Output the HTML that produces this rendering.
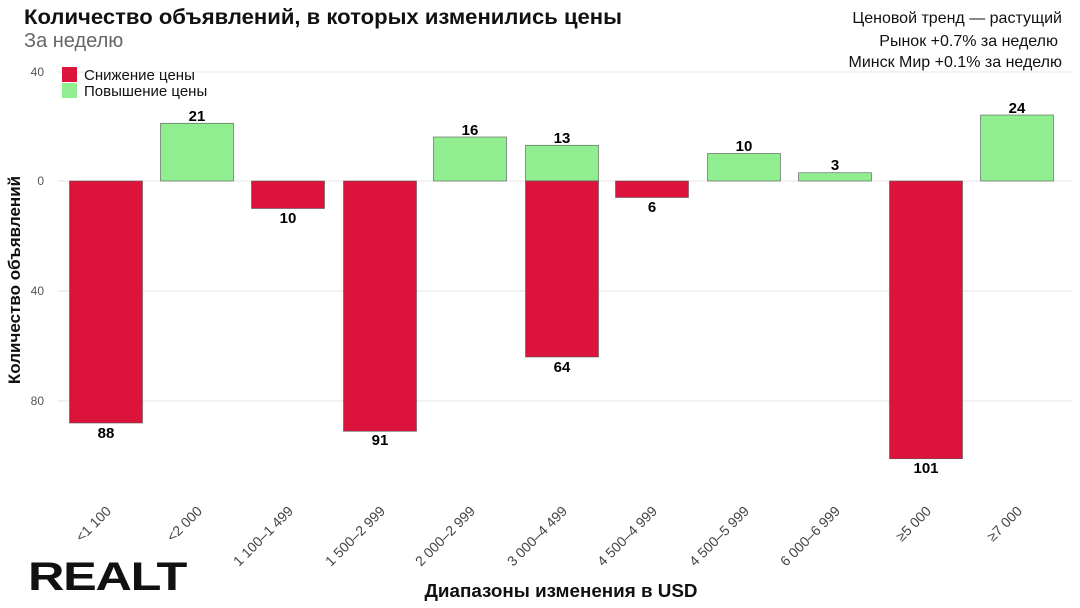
<!DOCTYPE html>
<html><head><meta charset="utf-8"><style>
body{margin:0;background:#fff;}
svg{display:block;font-family:"Liberation Sans",sans-serif;}
</style></head><body>
<svg width="1080" height="608" viewBox="0 0 1080 608">
<rect width="1080" height="608" fill="#fff"/>
<text x="24" y="24" font-size="21" font-weight="bold" fill="#111" textLength="598" lengthAdjust="spacingAndGlyphs">Количество объявлений, в которых изменились цены</text>
<text x="24" y="47" font-size="20" fill="#666">За неделю</text>
<text x="1062" y="23" font-size="16" text-anchor="end" fill="#111">Ценовой тренд — растущий</text>
<text x="1058" y="46" font-size="16" text-anchor="end" fill="#111">Рынок +0.7% за неделю</text>
<text x="1062" y="67" font-size="16" text-anchor="end" fill="#111">Минск Мир +0.1% за неделю</text>
<g stroke="#e4e4e4" stroke-width="1">
<line x1="58" x2="1072" y1="72" y2="72"/>
<line x1="58" x2="1072" y1="181" y2="181"/>
<line x1="58" x2="1072" y1="291" y2="291"/>
<line x1="58" x2="1072" y1="401" y2="401"/>
</g>
<g font-size="12" fill="#555" text-anchor="end">
<text x="44" y="76">40</text><text x="44" y="185">0</text><text x="44" y="295">40</text><text x="44" y="405">80</text>
</g>
<text transform="translate(20,280) rotate(-90)" font-size="17" font-weight="bold" text-anchor="middle" fill="#111">Количество объявлений</text>
<g stroke="#555" stroke-width="0.6">
<rect x="69.5" y="181" width="73" height="242" fill="#dc143c"/>
<rect x="160.5" y="123.25" width="73" height="57.75" fill="#90ee90"/>
<rect x="251.5" y="181" width="73" height="27.5" fill="#dc143c"/>
<rect x="343.5" y="181" width="73" height="250.25" fill="#dc143c"/>
<rect x="433.5" y="137" width="73" height="44" fill="#90ee90"/>
<rect x="525.5" y="145.25" width="73" height="35.75" fill="#90ee90"/>
<rect x="525.5" y="181" width="73" height="176" fill="#dc143c"/>
<rect x="615.5" y="181" width="73" height="16.5" fill="#dc143c"/>
<rect x="707.5" y="153.5" width="73" height="27.5" fill="#90ee90"/>
<rect x="798.5" y="172.75" width="73" height="8.25" fill="#90ee90"/>
<rect x="889.5" y="181" width="73" height="277.75" fill="#dc143c"/>
<rect x="980.5" y="115" width="73" height="66" fill="#90ee90"/>
</g>
<g font-size="15" font-weight="bold" fill="#000" text-anchor="middle">
<text x="106" y="438">88</text>
<text x="197" y="121">21</text>
<text x="288" y="223">10</text>
<text x="380" y="445">91</text>
<text x="470" y="135">16</text>
<text x="562" y="143">13</text>
<text x="562" y="372">64</text>
<text x="652" y="212">6</text>
<text x="744" y="151">10</text>
<text x="835" y="170">3</text>
<text x="926" y="473">101</text>
<text x="1017" y="113">24</text>
</g>
<rect x="62" y="67" width="15" height="15" fill="#dc143c"/>
<rect x="62" y="83" width="15" height="15" fill="#90ee90"/>
<text x="84" y="80" font-size="15" fill="#111">Снижение цены</text>
<text x="84" y="96" font-size="15" fill="#111">Повышение цены</text>
<g font-size="14" fill="#444" text-anchor="end">
<text transform="translate(112,512) rotate(-45)">&lt;1 100</text>
<text transform="translate(203,512) rotate(-45)">&lt;2 000</text>
<text transform="translate(294,512) rotate(-45)">1 100–1 499</text>
<text transform="translate(386,512) rotate(-45)">1 500–2 999</text>
<text transform="translate(476,512) rotate(-45)">2 000–2 999</text>
<text transform="translate(568,512) rotate(-45)">3 000–4 499</text>
<text transform="translate(658,512) rotate(-45)">4 500–4 999</text>
<text transform="translate(750,512) rotate(-45)">4 500–5 999</text>
<text transform="translate(841,512) rotate(-45)">6 000–6 999</text>
<text transform="translate(932,512) rotate(-45)">≥5 000</text>
<text transform="translate(1023,512) rotate(-45)">≥7 000</text>
</g>
<text x="561" y="597" font-size="18" font-weight="bold" text-anchor="middle" fill="#111" textLength="273" lengthAdjust="spacingAndGlyphs">Диапазоны изменения в USD</text>
<text x="28" y="590" font-size="40" font-weight="bold" fill="#111" letter-spacing="-1" textLength="158" lengthAdjust="spacingAndGlyphs">REALT</text>
</svg>
</body></html>
